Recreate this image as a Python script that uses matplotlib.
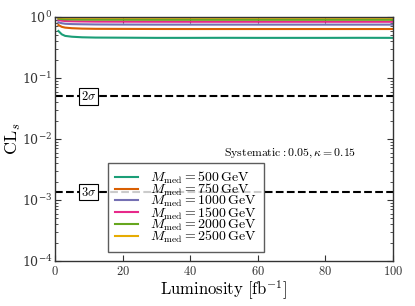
import matplotlib
matplotlib.use("Agg")
import matplotlib.pyplot as plt
import numpy as np

plt.rcParams['mathtext.fontset'] = 'cm'
plt.rcParams['font.family'] = 'serif'
plt.rcParams['font.serif'] = ['DejaVu Serif']

lumi = [1, 2, 3, 5, 8, 12, 20, 30, 40, 50, 60, 70, 80, 90, 100]
masses = ["500", "750", "1000", "1500", "2000", "2500"]
cls_500 = [0.59, 0.52, 0.49, 0.475, 0.465, 0.46, 0.458, 0.455, 0.455, 0.456, 0.455, 0.455, 0.455, 0.456, 0.455]
cls_750 = [0.74, 0.69, 0.67, 0.655, 0.645, 0.64, 0.638, 0.636, 0.635, 0.635, 0.635, 0.635, 0.635, 0.635, 0.635]
cls_1000 = [0.82, 0.79, 0.775, 0.765, 0.76, 0.755, 0.752, 0.75, 0.75, 0.75, 0.75, 0.75, 0.75, 0.75, 0.75]
cls_1500 = [0.9, 0.87, 0.86, 0.85, 0.845, 0.84, 0.838, 0.836, 0.835, 0.835, 0.835, 0.835, 0.835, 0.835, 0.835]
cls_2000 = [0.94, 0.925, 0.915, 0.91, 0.905, 0.903, 0.902, 0.9, 0.9, 0.9, 0.9, 0.9, 0.9, 0.9, 0.9]
cls_2500 = [0.98, 0.975, 0.972, 0.97, 0.97, 0.97, 0.97, 0.97, 0.97, 0.97, 0.97, 0.97, 0.97, 0.97, 0.97]
series = [cls_500, cls_750, cls_1000, cls_1500, cls_2000, cls_2500]
colors = ['#1b9e77', '#d95f02', '#7570b3', '#e7298a', '#66a61e', '#e6ab02']
sig2 = 0.05
sig3 = 0.00135

fig = plt.figure(figsize=(4.15, 3.06), dpi=100)
ax = fig.add_axes([55/415, 1-261/306, 338/415, 244/306])

for m, y, c in zip(masses, series, colors):
    ax.plot(lumi, y, color=c, lw=1.5, label=r'$M_{\rm med}=%s\,{\rm GeV}$' % m)

ax.axhline(sig2, color='k', ls='--', lw=1.5)
ax.axhline(sig3, color='k', ls='--', lw=1.5)
bbox = dict(boxstyle='square,pad=0.15', fc='white', ec='k', lw=0.8)
ax.text(10, sig2, r'$2\sigma$', ha='center', va='center', fontsize=9, bbox=bbox)
ax.text(10, sig3, r'$3\sigma$', ha='center', va='center', fontsize=9, bbox=bbox)
ax.text(50, 0.0059, r'$\rm Systematic: 0.05, \kappa=0.15$', fontsize=8.5, va='center', ha='left')

ax.set_yscale('log')
ax.set_xlim(0, 100)
ax.set_ylim(1e-4, 1)
ax.set_xticks([0, 20, 40, 60, 80, 100])
ax.set_xticklabels([r'$0$', r'$20$', r'$40$', r'$60$', r'$80$', r'$100$'])
ax.tick_params(which='both', direction='in', top=True, right=True, labelsize=9, colors='#333333', labelcolor='#333333')
ax.tick_params(which='major', length=4, pad=3)
ax.tick_params(axis='y', which='major', pad=2)
ax.tick_params(which='minor', length=2)
for s in ax.spines.values():
    s.set_color('#333333')
    s.set_linewidth(1.0)

ax.set_xlabel(r'$\rm Luminosity\ [fb^{-1}]$', fontsize=12, labelpad=0)
ax.set_ylabel(r'$\rm CL_{\it s}$', fontsize=13)
ax.yaxis.set_label_coords(-0.096, 0.5)

leg = ax.legend(loc='lower left', bbox_to_anchor=(0.157, 0.037), borderaxespad=0,
                fontsize=10, frameon=True, fancybox=False, edgecolor='#333333',
                labelspacing=-0.3, handlelength=1.65, borderpad=0.5, handletextpad=0.9)
leg.get_frame().set_linewidth(1.0)

fig.savefig('out.png', dpi=100)
